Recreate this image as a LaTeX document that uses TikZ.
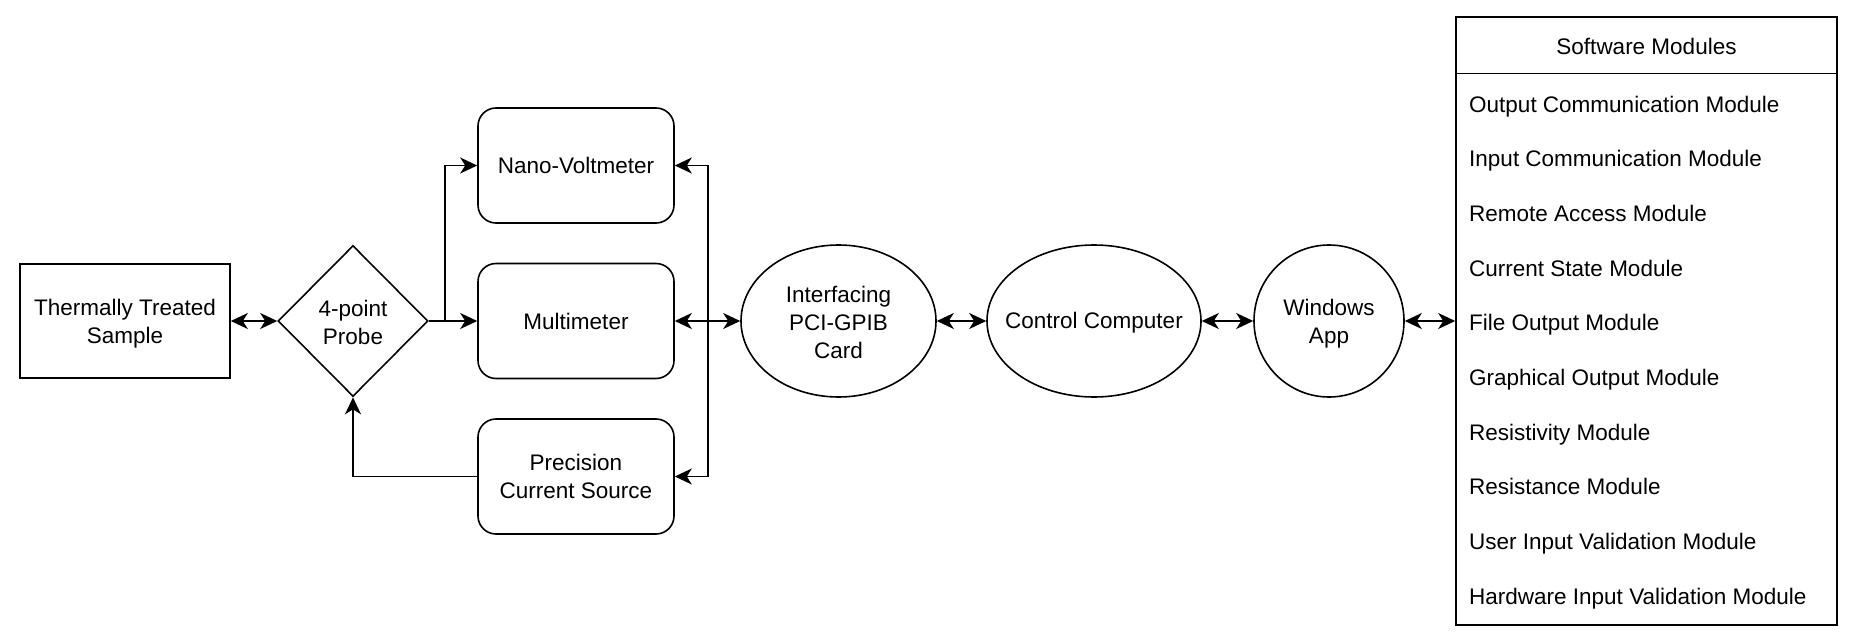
\documentclass[tikz,border=0pt]{standalone}
\usepackage{fontspec}
\setmainfont{Liberation Sans}
\usetikzlibrary{shapes.geometric,arrows.meta}
\begin{document}
\begin{tikzpicture}[x=1pt,y=-1pt,
  every node/.style={font=\fontsize{22.5}{28}\selectfont, inner sep=0pt},
  box/.style={draw, line width=1.6pt},
  rbox/.style={draw, line width=1.6pt, rounded corners=18pt, minimum width=196pt, minimum height=115pt, align=center},
  ell/.style={draw, line width=1.6pt, ellipse, minimum height=152pt},
  lbl/.style={align=center, yshift=-2.5pt},
  conn/.style={line width=1.6pt},
  >={Stealth[length=17pt,width=16pt,inset=5pt]}
]
\useasboundingbox (0,0) rectangle (1853,642);
% left part
\node[box, minimum width=210pt, minimum height=114pt, align=center] (sample) at (125,321) {};
\node[lbl] (sampletxt) at (sample.center) {Thermally Treated\\Sample};
\node[box, diamond, minimum width=150pt, minimum height=151pt] (probe) at (353,321) {};
\node[lbl, yshift=1.5pt] (probetxt) at (probe.center) {4-point\\Probe};
\node[rbox] (nano) at (576,165.5) {Nano-Voltmeter};
\node[rbox] (multi) at (576,321) {Multimeter};
\node[rbox] (prec) at (576,476.5) {};
\node[align=center] (prectxt) at (prec.center) {Precision\\Current Source};
% ellipses
\node[ell, minimum width=195pt] (iface) at (838.5,321) {};
\node[lbl, yshift=1pt] (ifacetxt) at (iface.center) {Interfacing\\PCI-GPIB\\Card};
\node[ell, minimum width=214pt] (ctrl) at (1094,321) {};
\node[yshift=-2pt] (ctrltxt) at (ctrl.center) {Control Computer};
\node[ell, minimum width=150pt] (win) at (1329,321) {};
\node[lbl] (wintxt) at (win.center) {Windows\\App};
% modules
\node[box, minimum width=381pt, minimum height=608pt] (mods) at (1646.5,321) {};
\draw[conn] ([yshift=-57.5pt]mods.north west) -- ([yshift=-57.5pt]mods.north east);
\node (hdr) at (1646.5,46) {Software Modules};
\foreach \t [count=\i from 0] in {Output Communication Module, Input Communication Module, Remote Access Module, Current State Module, File Output Module, Graphical Output Module, Resistivity Module, Resistance Module, User Input Validation Module, Hardware Input Validation Module}
  \node[anchor=west, text height=16pt, text depth=0pt] (m\i) at (1469, 104+54.7*\i) {\t};
% connectors
\coordinate (split) at (445,321);
\coordinate (bus) at (708,321);
\draw[conn,<->] (sample.east) -- (probe.west);
\draw[conn,->] (probe.east) -- (multi.west);
\draw[conn,->] (split) |- (nano.west);
\draw[conn,->] (prec.west) -| (probe.south);
\draw[conn,<->] (multi.east) -- (iface.west);
\draw[conn,->] (bus) |- (nano.east);
\draw[conn,->] (bus) |- (prec.east);
\draw[conn,<->] (iface.east) -- (ctrl.west);
\draw[conn,<->] (ctrl.east) -- (win.west);
\draw[conn,<->] (win.east) -- (mods.west |- win.east);
\end{tikzpicture}
\end{document}
